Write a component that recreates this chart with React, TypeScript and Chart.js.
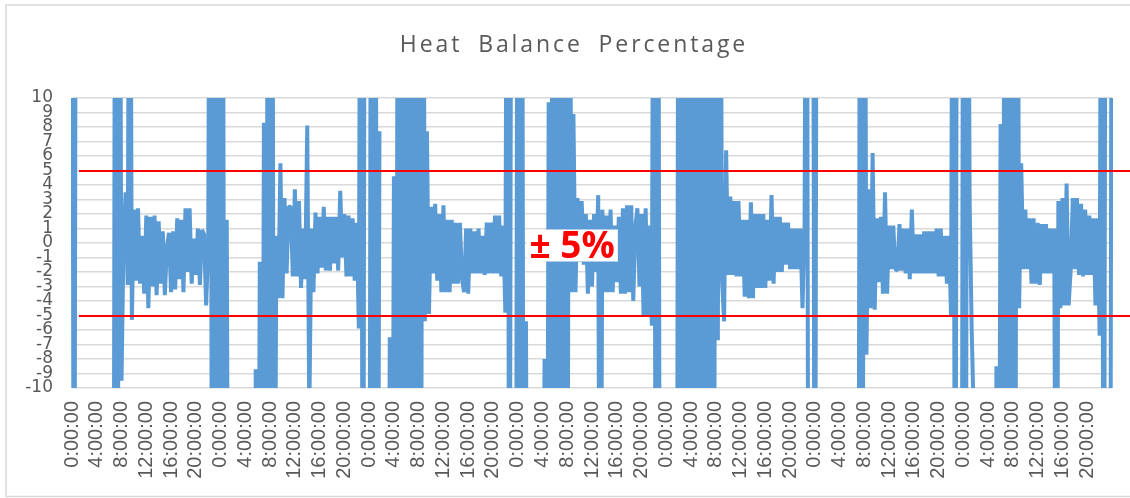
import React, { useEffect, useRef } from 'react';
import { Chart, registerables } from 'chart.js';

Chart.register(...registerables);

const CHART_TITLE = 'Heat Balance Percentage';
const BAND_LABEL = '± 5%';
const SAMPLE_MINUTES = 20;

const tickLabels: string[] = [
  '0:00:00', '4:00:00', '8:00:00', '12:00:00', '16:00:00', '20:00:00',
  '0:00:00', '4:00:00', '8:00:00', '12:00:00', '16:00:00', '20:00:00',
  '0:00:00', '4:00:00', '8:00:00', '12:00:00', '16:00:00', '20:00:00',
  '0:00:00', '4:00:00', '8:00:00', '12:00:00', '16:00:00', '20:00:00',
  '0:00:00', '4:00:00', '8:00:00', '12:00:00', '16:00:00', '20:00:00',
  '0:00:00', '4:00:00', '8:00:00', '12:00:00', '16:00:00', '20:00:00',
  '0:00:00', '4:00:00', '8:00:00', '12:00:00', '16:00:00', '20:00:00',
];

const limitValues: number[] = [5, -5];
const yMin = -10;
const yMax = 10;

// Heat balance (%), one reading every 20 minutes over 7 days (values beyond ±10 are off-scale)
const heatBalance: (number | null)[] = [
  // day 1
  40, -40, 40, null, null, null, null, null, null, null, null, null, null, null, null, null, null, null, null, null,
  -40, 40, -40, 40, -9.5, 0.4, 3.5, -2.9, 40, -5.3, 2.3, -2.6, 2.4, -2.8, 0.5, -3.5, 1.9, -4.5, 1.8, -3.0,
  1.9, -3.6, 1.5, -2.8, 0.8, -3.6, -0.3, 0.7, -3.4, 0.8, -3.2, 1.7, -2.5, 1.6, -3.4, 2.4, -2.0, 2.4, -2.8, 0.3,
  -2.2, 1.0, -2.9, 0.9,
  0.6, -4.3, -0.2, 40, -40, 40, -40, 40, -40, 40, -40, 1.6, -40,
  // day 2
  null, null, null, null, null, null, null, null, null, null, null, null,
  -8.7, -40, -1.3, -40, 8.3, -40, 40, -40, 40, -40, 0.5, -3.8, 5.5, -3.8, 3.1, -2.1, 2.5,
  2.5, -2.3, 3.7, -2.3, 2.9, -3.1, 1.0, -2.5, 8.1, -12, 1.0, -3.4, 2.1, -2.1, 1.8, -1.7, 2.5, -1.9, 1.8, -1.9,
  1.8, -1.4, 1.8, -1.9, 3.6, -1.0, 2.0, -2.3, 1.9, -2.3, 1.7, -2.6, 1.4, -5.9,
  // day 3
  40, -40, 40, null, -40, 40, -40, 40, -40, 7.7, null,
  null, null,
  -40, -6.5, -40, 4.6, -40, 40, -40, 40, -40, 40, -40, 40, -40, 40, -40, 40, -40, 40, -5.4, 7.7,
  -4.9, 2.5, -2.1, 2.7, -2.6, 2.0, -3.4, 2.6, -3.4, 1.6, -3.4, 1.6, -2.8, 1.4, -2.8, 1.4, -2.5,
  -3.4, 1.0, -3.5, 1.0, -2.1, 0.8, -2.1, 1.0, -2.1, 0.5, -2.2, 1.4, -2.1, 1.4, -2.1, 1.9, -2.1, 1.9, -2.3, 1.2,
  -4.8, 40, -40, 40, null, -40, 40, -40, 40, -40, -5.4, -40,
  // day 4
  null, null, null, null, null, null,
  -40, -8, -40, 9.7, -40, 40, -40, 40, -40, 40, -40, 40, -40, 40, -3.4, 8.9, -3.4, 3.1, -1.3, 2.9,
  -1.5, 2.0, -3.5, 1.6, -3.0, 2.0, -2.0, 3.3, -40, 2.3, -3.4, 1.9, -3.4, 2.3, -3.4, 1.2, -2.7, 1.8, -3.5, 2.4,
  -3.5, 2.6, -3.4, 2.6, -4.0, 1.1,
  2.4, -3.0, 2.0, -5.1, 2.4, -5.1, 1.2, -5.7, 40, -40, 40, -40,
  // day 5
  null, null, null, null, null, null, null,
  -40, 40, -40, 40, -40, 40, -40, 40, -40, 40, -40, 40, -40, 40, -40, 40, -40, 40, -40, 40,
  -6.7, 40, -2.5,
  -5.4, 6.4, -2.2, 3.2, -2.2, 2.9, -2.3, 2.9, -2.3, 1.6, -3.7, 1.6, -3.8, 2.8, -3.8, 2.0, -3.1, 2.0, -3.1, 2.0,
  -3.1, 1.6, -2.6, 3.3, -2.8, 1.8, -2.0, 1.8, -2.0, 1.4, -1.5, 1.4, -1.8, 1.0, -1.8, 1.0, -1.8, 1.0, -4.5, 0.8,
  // day 6
  40, -40, null, 40, -40, 40, null,
  null, null, null, null, null, null, null, null, null, null, null, null, null, null, null, null, null, null,
  -40, 40, -40, 40, -7.7, 3.7, -4.5, 6.2, -4.6, 1.7, -2.7, 1.8, -3.5, 3.5, -3.5, 1.2, -1.8, 1.2, -1.8,
  -1.9, 1.3, -1.9, 1.0, -2.1, 1.0, -2.5, 2.3, -2.1, 0.6, -2.1, 0.6, -2.1, 0.8, -2.1, 0.8, -2.1, 0.8, -2.1, 1.0,
  -2.3, 1.0, -2.3, 0.5, -2.8, 0.5, -5.1, 40, -40, 40, null, -40, 40, -40, 40, 3.0, -6, -12,
  // day 7
  null, null, null, null,
  null, null, null, null, null,
  -40, -8.5, -40, 8.2, -40, 40, -40, 40, -40, 40, -40, 40, -4.5, 5.5, -1.8, 2.3, -1.8, 1.7, -2.8, 1.7,
  -2.8, 1.4, -2.9, 1.3, -2.1, 1.3, -2.1, 1.0, -2.1, 1.0, -40, 2.9, -4.5, 3.1, -4.3, 4.1, -4.3,
  -1.8, 3.1, -1.8, 3.1, -2.2, 2.7, -2.3, 2.3, -2.2, 1.9, -2.2, 1.7, -4.3, 1.7, -6.4, 40, -40, 40, null, -40, 40,
];

const categories: string[] = heatBalance.map((_, j) => {
  const m = j * SAMPLE_MINUTES;
  const h = Math.floor(m / 60) % 24;
  const mm = m % 60;
  return `${h}:${String(mm).padStart(2, '0')}:00`;
});

const TICKS_PER_LABEL = (4 * 60) / SAMPLE_MINUTES;

const decorPlugin = {
  id: 'decor',
  beforeDraw(chart: any) {
    const { ctx, width } = chart;
    ctx.save();
    ctx.beginPath();
    ctx.rect(0, 0, width, 480);
    ctx.clip();
  },
  afterDatasetsDraw(chart: any) {
    const { ctx, scales, chartArea } = chart;
    const y = scales.y;
    ctx.save();
    ctx.strokeStyle = '#FF0000';
    ctx.lineWidth = 2;
    limitValues.forEach((v) => {
      const py = Math.round(y.getPixelForValue(v));
      ctx.beginPath();
      ctx.moveTo(chartArea.left + 7, py);
      ctx.lineTo(chart.width, py);
      ctx.stroke();
    });
    ctx.font = "bold 37px 'Open Sans', 'Noto Sans', sans-serif";
    const tx = chartArea.left + (chartArea.right - chartArea.left) * 0.44;
    const ty = y.getPixelForValue(-1);
    const w = ctx.measureText(BAND_LABEL).width;
    ctx.fillStyle = '#FFFFFF';
    ctx.fillRect(tx - 3, ty - 28, w + 6, 32);
    ctx.fillStyle = '#FF0000';
    ctx.textAlign = 'left';
    ctx.textBaseline = 'alphabetic';
    ctx.fillText(BAND_LABEL, tx, ty);
    ctx.restore();
  },
  afterDraw(chart: any) {
    const { ctx, width, height } = chart;
    ctx.restore();
    ctx.save();
    ctx.strokeStyle = '#D9D9D9';
    ctx.lineWidth = 1.5;
    ctx.beginPath();
    ctx.moveTo(width, 5);
    ctx.lineTo(6, 5);
    ctx.lineTo(6, height - 1.5);
    ctx.lineTo(width, height - 1.5);
    ctx.stroke();
    ctx.fillStyle = '#595959';
    ctx.font = "23px 'Open Sans', 'Noto Sans', sans-serif";
    (ctx as any).letterSpacing = '2.9px';
    (ctx as any).wordSpacing = '7px';
    ctx.textAlign = 'center';
    ctx.textBaseline = 'alphabetic';
    ctx.fillText(CHART_TITLE, 574, 52);
    ctx.restore();
  },
};

export default function App() {
  const canvasRef = useRef<HTMLCanvasElement | null>(null);

  useEffect(() => {
    const canvas = canvasRef.current;
    if (!canvas) return;
    const chart = new Chart(canvas, {
      type: 'line',
      data: {
        labels: categories,
        datasets: [
          {
            label: CHART_TITLE,
            data: heatBalance,
            borderColor: '#5B9BD5',
            backgroundColor: '#5B9BD5',
            borderWidth: 4,
            pointRadius: 0,
            pointHoverRadius: 0,
            tension: 0,
            spanGaps: false,
            fill: false,
            borderJoinStyle: 'bevel',
            borderCapStyle: 'butt',
            clip: { left: 1, right: 1, top: 0, bottom: 0 },
          } as any,
        ],
      },
      options: {
        responsive: false,
        animation: false,
        devicePixelRatio: 1,
        events: [],
        layout: { padding: { left: 0, right: 18, top: 98, bottom: 0 } },
        plugins: {
          legend: { display: false },
          title: { display: false },
          tooltip: { enabled: false },
        },
        scales: {
          x: {
            type: 'category',
            offset: false,
            grid: { display: false, drawTicks: false },
            border: { display: false },
            ticks: {
              autoSkip: false,
              maxRotation: 90,
              minRotation: 90,
              padding: 13,
              color: '#595959',
              font: { family: "'Liberation Sans', Arial, sans-serif", size: 20 },
              callback: (_v: any, index: number) => {
                if (index % TICKS_PER_LABEL !== 0) return null;
                const k = index / TICKS_PER_LABEL;
                return k < tickLabels.length ? tickLabels[k] : null;
              },
            },
            afterFit: (s: any) => {
              s.height = 110;
            },
          },
          y: {
            min: yMin,
            max: yMax,
            grid: { color: '#D9D9D9', lineWidth: 1.5, drawTicks: false },
            border: { display: false },
            ticks: {
              stepSize: 1,
              autoSkip: false,
              padding: 19,
              color: '#595959',
              font: { family: "'DejaVu Sans', sans-serif", size: 17 },
            },
            afterFit: (s: any) => {
              s.width = 72;
            },
          },
        },
      } as any,
      plugins: [decorPlugin],
    });
    return () => chart.destroy();
  }, []);

  return (
    <div style={{ position: 'fixed', left: 0, top: 0, width: 1130, height: 498, background: '#fff' }}>
      <canvas ref={canvasRef} width={1130} height={498} style={{ display: 'block' }} />
    </div>
  );
}
